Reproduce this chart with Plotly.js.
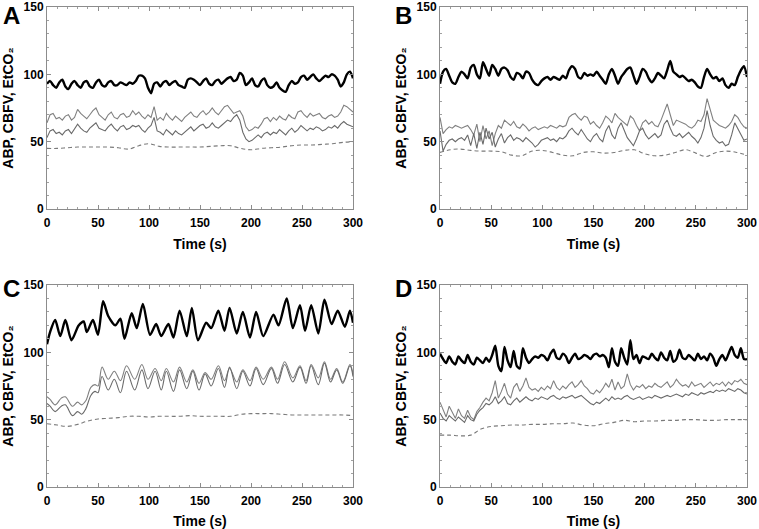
<!DOCTYPE html>
<html><head><meta charset="utf-8">
<script src="https://cdn.plot.ly/plotly-3.0.1.min.js"></script>
<style>html,body{margin:0;padding:0;background:#fff}#chart{width:759px;height:529px}</style>
</head><body><div id="chart"></div>
<script>
// time axes (s)
const T3 = [0,3,6,9,12,15,18,21,24,27,30,33,36,39,42,45,48,51,54,57,60,63,66,69,72,75,78,81,84,87,90,93,96,99,102,105,108,111,114,117,120,123,126,129,132,135,138,141,144,147,150,153,156,159,162,165,168,171,174,177,180,183,186,189,192,195,198,201,204,207,210,213,216,219,222,225,228,231,234,237,240,243,246,249,252,255,258,261,264,267,270,273,276,279,282,285,288,291,294,297,300];
const T10 = [0,10,20,30,40,50,60,70,80,90,100,110,120,130,140,150,160,170,180,190,200,210,220,230,240,250,260,270,280,290,300];
const X_TICKS = [0,50,100,150,200,250,300];
const Y_TICKS = [0,50,100,150];
const PANELS = ['A','B','C','D'];

// Panel A
const A_ABP = [93,95,92,90,94,96,91,89,93,95, 92,90,94,95,91,90,94,96,92,91, 94,95,92,92,94,93,92,94,93,95, 99,99,97,90,86,93,94,91,94,95, 92,94,95,92,91,90,96,97,96,94, 92,95,97,93,92,95,96,93,95,97, 98,95,96,101,99,92,94,97,92,91, 95,97,92,90,91,94,90,88,87,92, 95,93,94,98,99,96,98,100,97,95, 97,99,98,100,99,96,91,94,100,102, 97];
const A_CBFV1 = [64,70,71,67,68,66,69,70,66,68, 74,71,69,67,70,73,75,70,68,66, 70,72,68,67,70,71,68,69,73,70, 72,69,67,70,68,76,66,68,66,71, 68,66,69,67,65,68,70,72,69,68, 71,73,70,72,75,72,70,73,76,77, 74,71,72,73,69,61,58,59,61,60, 63,67,68,65,68,66,69,67,66,70, 68,67,72,73,70,68,71,69,70,71, 68,67,69,70,68,69,72,77,76,74, 72];
const A_CBFV2 = [53,58,59,56,57,55,58,59,56,60, 63,60,58,57,60,62,64,60,59,58, 61,63,60,58,61,62,59,60,62,61, 62,59,57,60,62,68,58,57,55,59, 57,55,58,56,55,57,59,61,58,60, 62,63,60,61,64,61,60,62,64,66, 65,68,70,66,57,52,50,51,53,55, 53,56,57,55,57,56,59,57,55,58, 60,57,59,62,60,58,60,59,61,60, 58,59,61,60,62,60,63,65,63,62, 61];
const A_ETCO2 = [45,45,45.5,46,46,46,46,45.5,44.5,47, 48.5,46.5,46,46,46,46,46.5,47,47,45, 44,45,45.5,46,47,47.5,47.5,48,48.5,49.5, 50];

// Panel B
const B_ABP = [93,102,104,99,94,93,98,102,100,97, 105,107,100,97,109,104,99,107,104,99, 104,105,103,98,96,101,100,97,102,101, 96,93,92,95,97,98,96,98,97,96, 99,97,103,106,104,98,97,101,99,100, 99,102,99,96,93,100,104,99,93,98, 101,104,105,99,93,98,104,102,97,94, 97,101,99,97,103,110,102,100,98,99, 97,95,96,94,91,90,98,104,100,97, 98,95,97,92,90,93,92,98,103,106, 98];
const B_CBFV1 = [68,56,59,61,60,62,61,60,61,62, 59,55,63,50,62,52,58,47,56,62, 60,66,64,62,65,61,60,63,61,58, 60,61,59,60,61,60,62,61,60,62, 61,62,68,70,71,68,66,69,68,63, 65,62,60,64,69,67,64,71,68,66, 64,62,69,67,62,58,64,66,63,65, 62,61,66,72,78,70,62,66,65,64, 63,61,60,62,66,65,70,82,74,66, 64,62,61,60,62,65,70,68,64,61, 60];
const B_CBFV2 = [58,43,48,51,52,50,52,53,51,55, 47,56,45,57,48,60,52,57,46,52, 56,49,53,55,51,53,52,50,53,51, 49,46,48,51,52,53,51,52,50,53, 52,54,58,60,57,55,59,55,52,50, 54,56,52,50,58,62,55,52,60,64, 58,53,50,47,52,58,60,55,52,54, 56,53,55,63,66,60,55,54,56,53, 55,57,54,52,49,53,60,73,62,54, 51,49,50,47,48,55,64,60,55,51, 52];
const B_ETCO2 = [42,44,44.5,43.5,43,43,42.5,40,39.5,43, 43.5,42,40,39.5,42,42.5,41.5,42,43.5,44, 41,39.5,40,42,44,41.5,39,42,43,42, 40];

// Panel C (values read at peaks and troughs)
const C_ABP_T = [0,3,8,13,18,24,31,36,39,45,50,55,60,67,72,76,83,88,94,101,107,112,119,124,130,137,142,148,156,161,168,174,179,186,192,199,205,212,222,227,235,241,248,253,259,266,272,279,285,292,297,300];
const C_ABP = [106,115,124,112,124,109,120,123,115,124,113,138,127,120,125,110,129,118,136,113,121,112,121,111,131,112,133,109,122,118,131,116,133,114,130,111,130,112,128,120,140,118,135,116,135,114,139,121,131,119,131,122];
const C_CBFV_T = [0,3,8,14,18,25,30,34,38,43,47,50,54,60,66,72,78,86,93,99,106,112,117,124,130,137,143,149,155,161,168,174,179,186,192,199,205,212,220,226,233,241,248,254,259,266,272,278,284,290,297,300];
const C_CBFV1 = [67,65,61,66,67,60,63,61,64,74,76,75,89,80,86,79,90,80,91,80,88,79,88,78,89,78,87,77,85,80,90,79,88,78,87,79,89,80,89,80,93,81,90,79,91,81,93,80,88,78,91,84];
const C_CBFV2 = [62,60,56,60,61,53,56,54,58,68,71,70,82,72,80,70,86,72,87,73,86,72,86,71,87,73,86,72,84,75,88,74,89,73,86,75,88,76,88,77,91,78,89,77,90,76,92,78,87,77,90,82];
const C_ETCO2 = [47,46,45,46.5,49,50.5,51,51.5,52.5,52.5, 52,52.5,52.5,52.5,53,52.5,52.5,52.5,52.5,54, 54.5,54.5,54.5,54,53.5,53.5,53.5,53.5,53.5,53.5, 53];

// Panel D
const D_ABP = [99,95,92,97,93,91,97,94,92,98, 93,91,96,94,92,96,93,98,105,90, 86,104,94,89,101,90,88,103,96,92, 95,97,96,98,97,94,99,102,96,95, 99,97,92,96,99,95,96,98,97,95, 98,99,97,98,96,89,103,93,90,103, 96,91,109,95,98,92,97,96,95,99, 96,94,100,96,94,101,93,95,102,96, 95,98,96,94,99,95,97,94,99,96, 90,95,98,94,99,104,98,96,103,95, 95];
const D_CBFV1 = [63,58,52,60,55,51,58,53,51,57, 52,50,56,59,63,66,64,70,79,66, 71,77,69,66,74,77,71,75,81,74, 72,73,71,74,72,75,73,79,74,72, 75,73,76,78,74,76,79,75,73,70, 69,72,70,73,77,74,80,72,78,73, 75,84,76,72,75,74,76,73,75,74, 77,75,74,76,78,74,76,80,77,75, 76,74,78,75,76,77,74,76,78,75, 77,76,78,75,78,76,79,78,80,77, 76];
const D_CBFV2 = [55,51,49,53,51,49,52,50,48,53, 50,49,54,57,59,62,61,63,67,62, 64,67,62,61,64,66,63,65,67,65, 64,66,65,67,66,65,67,68,66,65, 67,66,67,68,66,67,68,66,64,62, 61,63,62,64,66,64,67,65,66,65, 67,68,66,65,66,67,65,66,67,66, 68,67,66,67,68,67,68,69,68,67, 69,68,70,69,68,70,69,70,71,70, 72,71,72,71,73,72,71,73,72,70, 69];
const D_ETCO2 = [38.5,38.5,38,38.5,43,45,45.5,46,46,46.5, 46.5,47,47,47.5,46,45.5,47,48,49.5,48.5, 49,49,49.5,49.5,50,50,49.5,49.5,50,50, 50];

const X_TITLE = 'Time (s)';
const Y_TITLE = 'ABP, CBFV, EtCO\u2082';

const W = 759, H = 529;
const FONT = 'Liberation Sans, Arial, Helvetica, sans-serif';

const panelDefs = [
  {xa:'x',  ya:'y',  abp:[T3,A_ABP], c1:[T3,A_CBFV1], c2:[T3,A_CBFV2], et:[T10,A_ETCO2], shp:'linear'},
  {xa:'x2', ya:'y2', abp:[T3,B_ABP], c1:[T3,B_CBFV1], c2:[T3,B_CBFV2], et:[T10,B_ETCO2], shp:'linear'},
  {xa:'x3', ya:'y3', abp:[C_ABP_T,C_ABP], c1:[C_CBFV_T,C_CBFV1], c2:[C_CBFV_T,C_CBFV2], et:[T10,C_ETCO2], shp:'spline'},
  {xa:'x4', ya:'y4', abp:[T3,D_ABP], c1:[T3,D_CBFV1], c2:[T3,D_CBFV2], et:[T10,D_ETCO2], shp:'linear'}
];

const traces = [];
panelDefs.forEach(p => {
  traces.push({x:p.et[0], y:p.et[1], xaxis:p.xa, yaxis:p.ya, type:'scatter', mode:'lines', name:'EtCO2',
    line:{color:'#7a7a7a', width:1.1, dash:'4px,3px', shape:'spline'}, hoverinfo:'skip'});
  traces.push({x:p.c1[0], y:p.c1[1], xaxis:p.xa, yaxis:p.ya, type:'scatter', mode:'lines', name:'CBFV',
    line:{color:'#808080', width:1.1, shape:p.shp}, hoverinfo:'skip'});
  traces.push({x:p.c2[0], y:p.c2[1], xaxis:p.xa, yaxis:p.ya, type:'scatter', mode:'lines', name:'CBFV',
    line:{color:'#6a6a6a', width:1.1, shape:p.shp}, hoverinfo:'skip'});
  traces.push({x:p.abp[0], y:p.abp[1], xaxis:p.xa, yaxis:p.ya, type:'scatter', mode:'lines', name:'ABP',
    line:{color:'#000000', width:2.4, shape:'spline', smoothing:0.7}, hoverinfo:'skip'});
});

function ax(extra){
  return Object.assign({
    showline:true, linecolor:'#8c8c8c', linewidth:1, mirror:'ticks',
    ticks:'inside', ticklen:4, tickcolor:'#8c8c8c', tickwidth:1,
    showgrid:false, zeroline:false, fixedrange:true, automargin:false,
    tickfont:{family:FONT, size:12, color:'#000', weight:'bold'},
    minor:{ticks:'inside', ticklen:2, tickcolor:'#a0a0a0', dtick:10, showgrid:false}
  }, extra);
}
const px = v => v / W;
const py = v => 1 - v / H;
const colX = [[47,353],[440,747]];
const rowY = [[7,209],[285,487]];
const titleFont = {family:FONT, size:14, weight:'bold', color:'#000'};

const layout = {
  width:W, height:H, margin:{l:0,r:0,t:0,b:0}, showlegend:false,
  paper_bgcolor:'#fff', plot_bgcolor:'#fff',
  font:{family:FONT, color:'#000'},
  annotations:[]
};
for (let i = 0; i < 4; i++) {
  const c = i % 2, r = Math.floor(i / 2);
  const sfx = i === 0 ? '' : String(i + 1);
  layout['xaxis' + sfx] = ax({domain:[px(colX[c][0]), px(colX[c][1])], range:[0,300], tickvals:X_TICKS, anchor:'y' + sfx,
    ticklabelstandoff:3, title:{text:X_TITLE, font:titleFont, standoff:9}});
  layout['yaxis' + sfx] = ax({domain:[py(rowY[r][1]), py(rowY[r][0])], range:[0,150], tickvals:Y_TICKS, anchor:'x' + sfx,
    title:{text:Y_TITLE, font:titleFont, standoff:6}});
  layout.annotations.push({text:PANELS[i], xref:'paper', yref:'paper', x:px(c ? 404 : 11), y:py(r ? 288 : 15),
    xanchor:'center', yanchor:'middle', showarrow:false, font:{family:FONT, size:24, weight:'bold', color:'#000'}});
}

Plotly.newPlot('chart', traces, layout, {staticPlot:true, displayModeBar:false});
</script></body></html>
